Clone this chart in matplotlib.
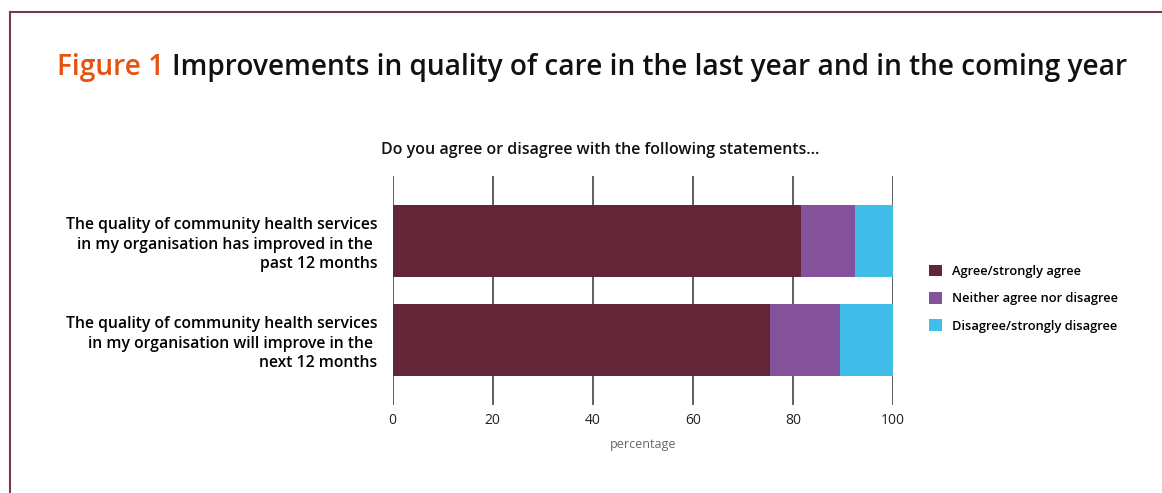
import matplotlib
matplotlib.use("Agg")
import matplotlib.pyplot as plt
from matplotlib.patches import Patch

categories = [
    "The quality of community health services\nin my organisation has improved in the \npast 12 months",
    "The quality of community health services\nin my organisation will improve in the \nnext 12 months",
]
series_names = ["Agree/strongly agree", "Neither agree nor disagree", "Disagree/strongly disagree"]
agree = [81.6, 75.4]
neither = [10.9, 14.1]
disagree = [7.5, 10.5]
xticks = [0, 20, 40, 60, 80, 100]
colors = ["#632538", "#83529a", "#40bde8"]

FONT = "Open Sans"
W, H = 1162, 493
fig = plt.figure(figsize=(W / 100, H / 100), dpi=100)
fig.patch.set_facecolor("white")

# border
border = "#7a3a55"
fig.add_artist(plt.Line2D([10 / W, 10 / W], [0, 1 - 12 / H], color=border, lw=1.5, transform=fig.transFigure))
fig.add_artist(plt.Line2D([10 / W, 1], [1 - 12 / H, 1 - 12 / H], color=border, lw=1.5, transform=fig.transFigure))

ax = fig.add_axes([392.5 / W, 1 - 405 / H, (893 - 392.5) / W, (405 - 176) / H])
ypos = list(range(len(categories)))
left = [0] * len(categories)
for vals, c, name in zip([agree, neither, disagree], colors, series_names):
    ax.barh(ypos, vals, left=left, height=0.72, color=c, label=name, zorder=3)
    left = [l + v for l, v in zip(left, vals)]

ax.set_xlim(0, 100)
ax.set_ylim(1.657, -0.657)
ax.set_xticks(xticks)
ax.set_xticklabels([str(t) for t in xticks], fontsize=10, family=FONT, color="#222222")
ax.tick_params(axis="x", length=0, pad=6)
ax.set_yticks(ypos)
ax.set_yticklabels(categories, fontsize=11.3, family=FONT, fontweight="semibold",
                   linespacing=1.3, ha="right")
ax.tick_params(axis="y", length=0, pad=11)
for s in ax.spines.values():
    s.set_visible(False)
ax.grid(axis="x", color="#444444", lw=1.2, zorder=0)
ax.set_axisbelow(True)

ax.set_xlabel("percentage", fontsize=9, family=FONT, color="#666666", labelpad=7)

fig.text(600 / W, 1 - 150 / H, "Do you agree or disagree with the following statements...",
         ha="center", va="center", fontsize=11.5, family=FONT, fontweight="semibold", color="#111111")

handles = [Patch(facecolor=c, edgecolor="none") for c in colors]
fig.legend(handles, series_names, loc="upper left", bbox_to_anchor=(917 / W, 1 - 253 / H),
           frameon=False, prop={"family": FONT, "size": 9.3, "weight": "semibold"},
           handlelength=1.0, handleheight=1.0, handletextpad=0.8, labelspacing=1.1)

# title in two colours
t1 = fig.text(57 / W, 1 - 68 / H, "Figure 1", ha="left", va="center", fontsize=20.2,
              family=FONT, fontweight="semibold", color="#e8500e")
fig.canvas.draw()
bb = t1.get_window_extent()
fig.text(bb.x1 / W + 8 / W, 1 - 68 / H, "Improvements in quality of care in the last year and in the coming year",
         ha="left", va="center", fontsize=20.2, family=FONT, fontweight="semibold", color="#111111")

fig.savefig("out.png", dpi=100)
